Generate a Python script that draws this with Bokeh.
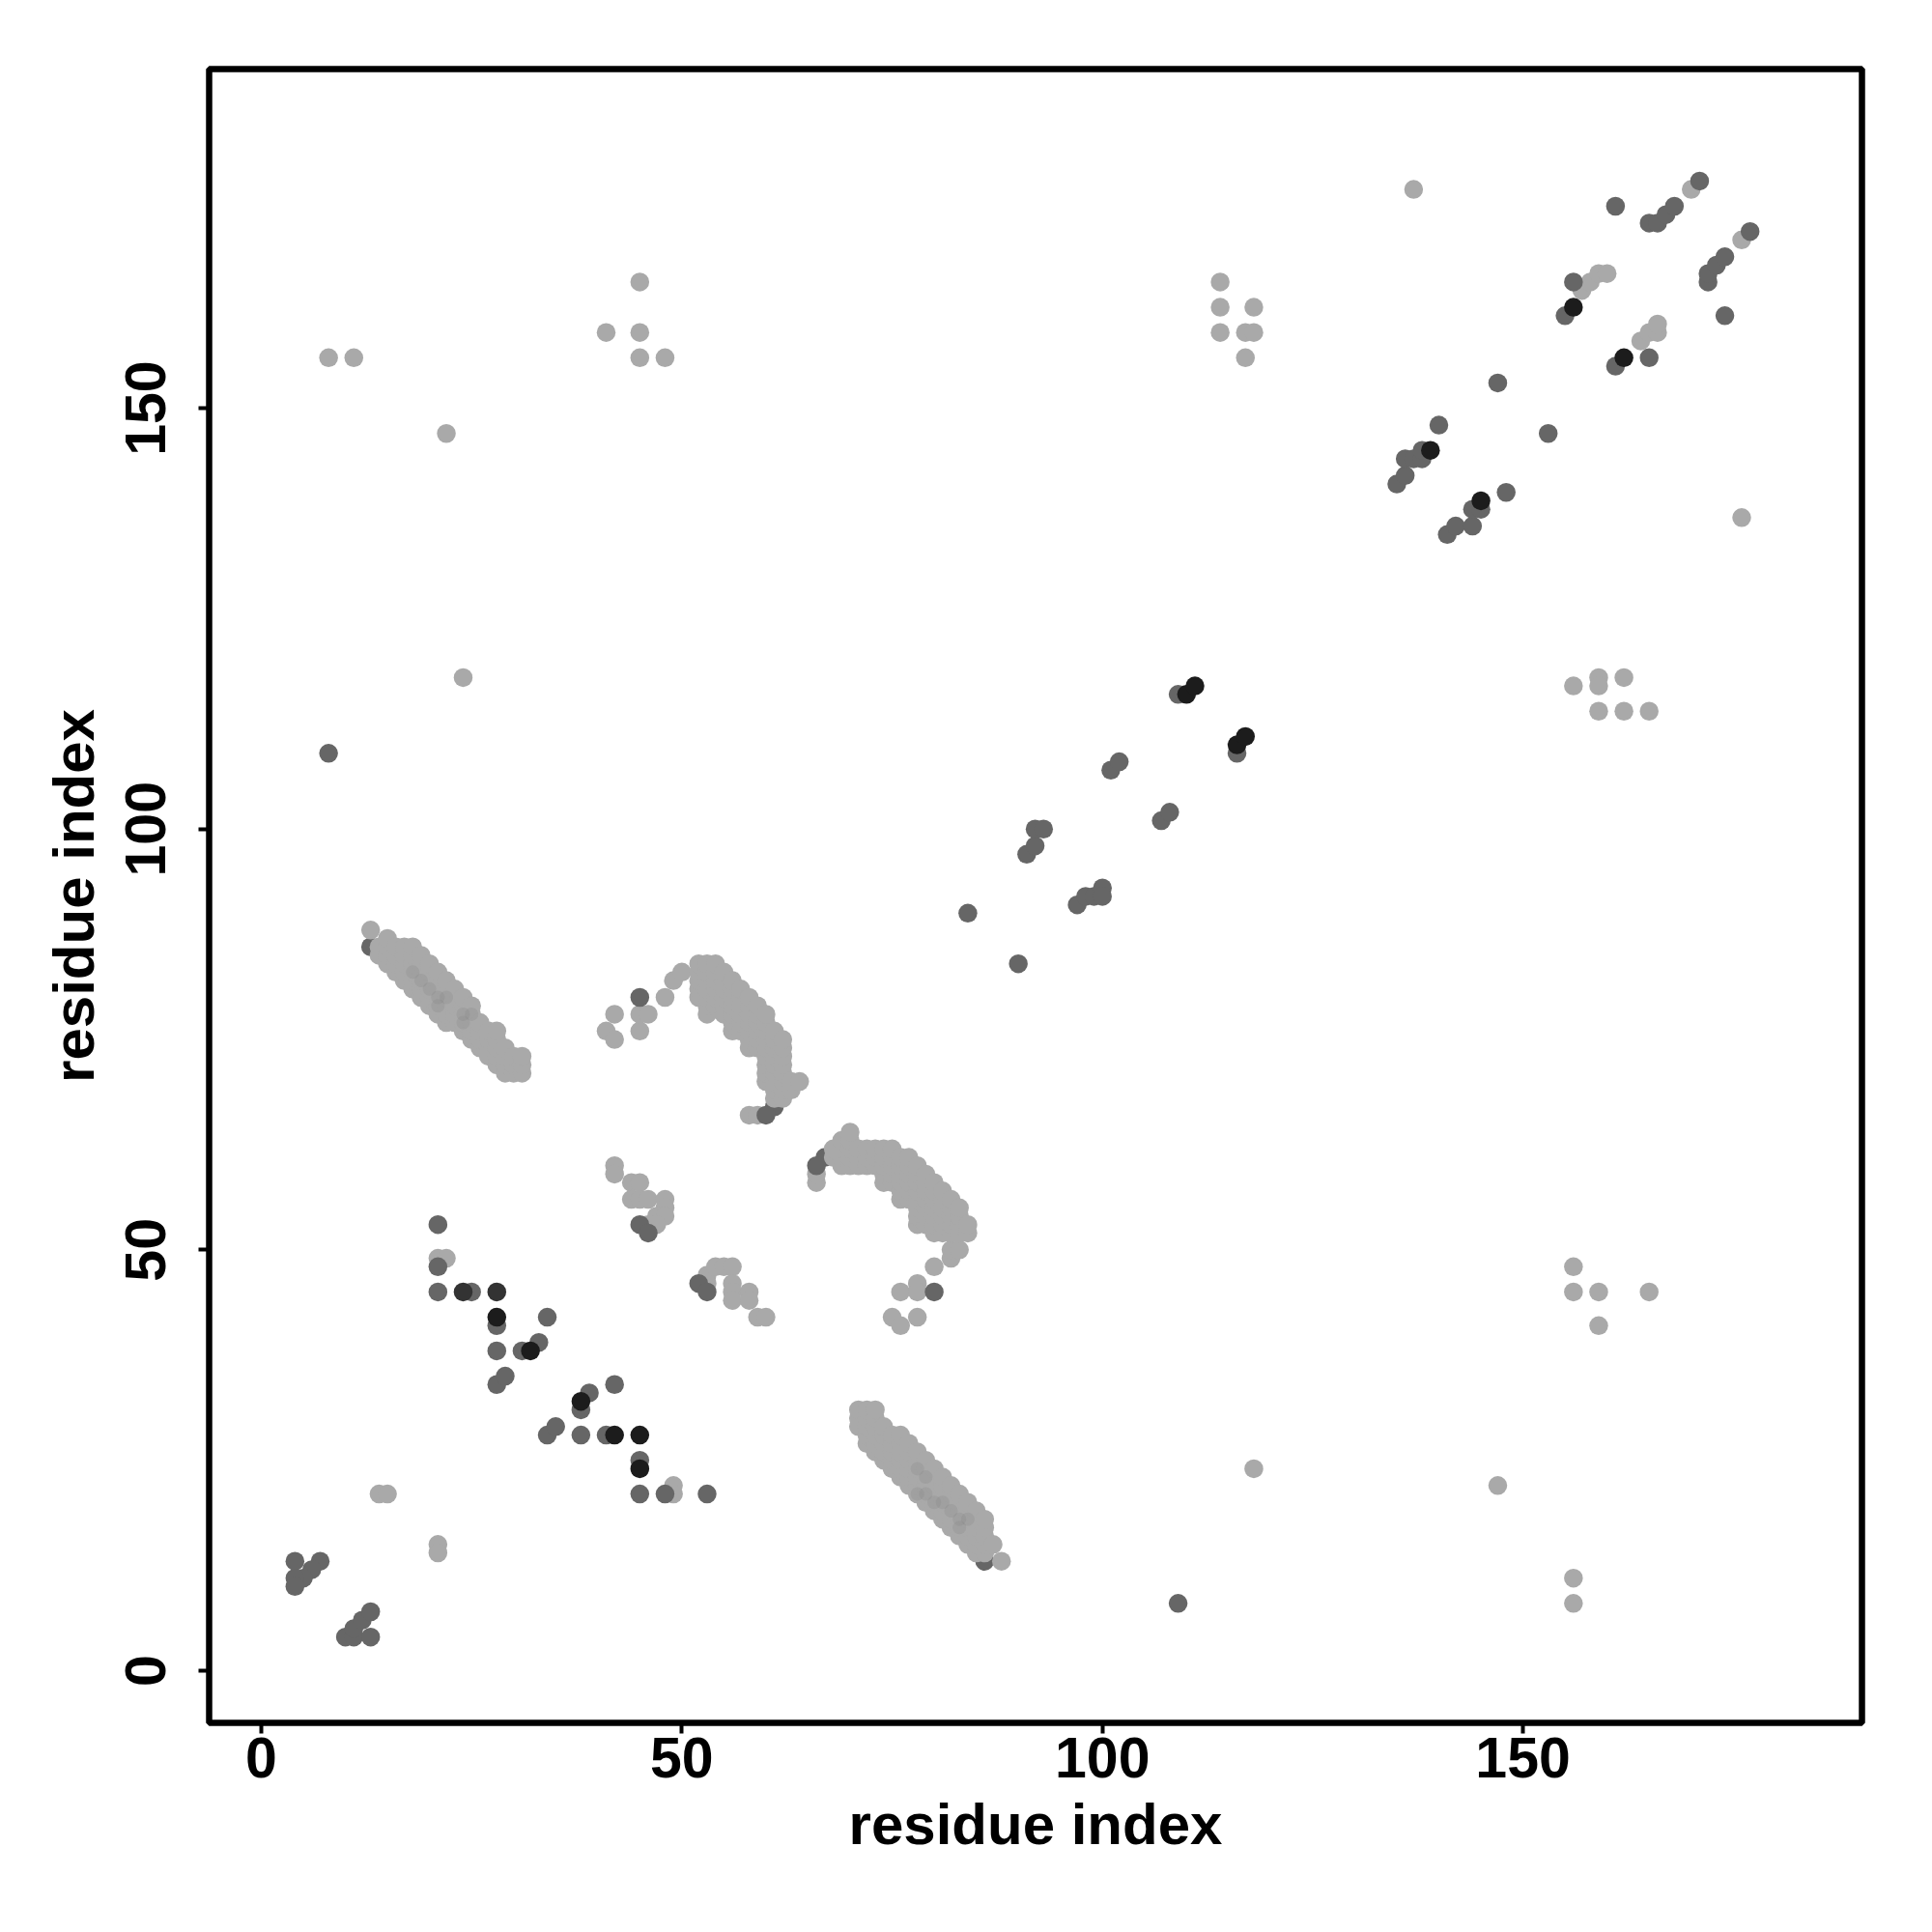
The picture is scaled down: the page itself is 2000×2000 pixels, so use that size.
from bokeh.plotting import figure
from bokeh.embed import file_html
from bokeh.resources import INLINE
from bokeh.models import FixedTicker, Range1d

tick_values = [0, 50, 100, 150]
axis_title = "residue index"

# isolated light contacts
light_pts = [(8,156),(11,156),(22,147),(24,118),(137,176),(41,159),(45,165),(45,159),(45,156),(48,156),
 (114,165),(114,162),(118,162),(114,159),(117,159),(118,159),(117,156),(176,137),(156,117),(159,118),(159,117),
 (162,118),(159,114),(162,114),(165,114),(156,48),(156,45),(159,45),(159,41),(165,45),(118,24),(147,22),(156,11),(156,8),
 (14,21),(15,21),(21,15),(21,14),(49,22),(49,21),(170,176),(176,170),(157,164),(158,165),(159,166),(160,166),
 (164,158),(165,159),(166,159),(166,160),(21,49),(22,49),
 (42,60),(42,59),(44,58),(45,58),(44,56),(45,56),(46,56),(48,56),(48,55),(47,54),(48,54),(46,53),(47,53),
 (53,47),(54,48),(55,48),(56,48),(53,46),(56,46),(56,45),(56,44),(58,45),(58,44),(59,42),(60,42),
 (75,42),(76,41),(76,45),(78,46),(78,45),(78,42),(80,48),(82,49),(82,50),(83,50),
 (41,76),(42,78),(42,75),(45,76),(45,78),(46,78),(13,88),(88,13),(58,66),(59,66),(66,58),(66,59)]

# dense bands: residue on x, contacting residues on y
band1_x = [14,15,16,17,18,19,20,21,22,23,24,25,26,27,28,29,30,31]
band1_y = [[85,86],[84,85,86,87],[83,84,85,86],[82,83,84,85,86],[81,82,83,84,85,86],[80,81,82,83,84,85],
 [79,80,81,82,83,84],[78,79,80,81,82,83],[77,78,79,80,81,82],[77,78,79,80,81],[76,77,78,79,80],[75,76,77,78,79],
 [74,75,76,77],[73,74,75,76],[72,73,74,75,76],[71,72,73,74],[71,72,73],[71,72,73]]
band2_x = [48,49,50,52,53,54,55,56,57,58,59,60,61,62,63,64]
band2_y = [[80],[82],[83],[80,81,82,83,84],[78,79,80,81,82,83,84],[79,80,81,82,83,84],[78,79,80,81,82,83],
 [76,77,78,79,80,81,82],[76,77,78,79,80,81],[74,75,76,77,78,79,80],[74,75,76,77,78,79],
 [70,71,72,73,74,75,76,77,78],[68,69,70,71,72,73,74,75,76],[68,69,70,71,72,73,74,75],[69,70],[70]]
band3_x = [68,69,70,71,72,73,74,75,76,77,78,79,80,81,82,83,84]
band3_y = [[61,62],[60,61,62,63],[60,61,62,63,64],[60,61,62],[60,61,62],[60,61,62],[58,59,60,61,62],[58,59,60,61,62],
 [56,57,58,59,60,61],[56,57,58,59,60,61],[53,54,55,56,57,58,59,60],[53,54,55,56,57,58,59],[52,53,54,55,56,57,58],
 [52,53,54,55,56,57],[52,53,54,55,56],[52,53,54,55],[52,53]]
band4_x = [71,72,73,74,75,76,77,78,79,80,81,82,83,84,85,86,87]
band4_y = [[29,30,31],[27,28,29,30,31],[26,27,28,29,30,31],[25,26,27,28,29],[24,25,26,27,28],[23,24,25,26,27,28],
 [22,23,24,25,26,27],[21,22,23,24,25,26],[20,21,22,23,24,25],[19,20,21,22,23,24],[18,19,20,21,22,23],
 [17,18,19,20,21,22],[16,17,18,19,20,21],[15,16,17,18,19,20],[14,15,16,17,18,19],[14,15,16,17,18],[15]]

# darker, more heavily overlapped core of the bands
core_pts = [(18,83),(19,82),(20,81),(21,80),(21,79),(22,80),(24,78),(24,77),(25,78),
 (78,24),(79,23),(78,21),(79,21),(80,20),(81,20),(82,19),(83,18),(83,17),(84,18)]

dark_under = [(13,86),(86,13),(61,67),(67,61)]
dark_pts = [(8,109),(109,8),(135,141),(136,142),(136,144),(137,144),(138,144),(138,145),(140,148),
 (141,135),(142,136),(144,136),(144,138),(145,138),(148,140),(147,153),(153,147),(155,161),(156,165),
 (161,155),(165,156),(161,174),(165,172),(166,172),(167,173),(168,174),(171,177),(172,165),(172,166),(173,167),(174,168),(174,161),(177,171),
 (84,90),(90,84),(91,97),(92,98),(92,100),(93,100),(97,91),(98,92),(99,92),(100,93),(100,92),(101,107),(102,108),(107,101),(108,102),(109,116),(116,109),
 (4,13),(7,13),(6,12),(5,11),(4,11),(4,10),(10,4),(11,4),(11,5),(12,6),(13,7),(13,4),
 (21,53),(21,48),(21,45),(25,45),(28,41),(34,42),(28,38),(31,38),(33,39),(28,34),(29,35),(42,34),(34,28),(35,29),(38,31),(39,33),(38,28),(41,28),(45,25),(45,21),(48,21),(53,21),
 (45,53),(46,52),(52,46),(53,45),(80,45),(45,80),(60,66),(66,60)]
charcoal_pts = [(24,45),(28,45)]
black_pts = [(139,145),(145,139),(156,162),(162,156),(110,116),(111,117),(116,110),(117,111),
 (28,42),(32,38),(38,32),(42,28),(45,28),(45,24)]

def split(pts):
    return [q[0] for q in pts], [q[1] for q in pts]

def expand(xs, yss):
    return [(a, b) for a, bs in zip(xs, yss) for b in bs]

W = H = 1984
p = figure(width=W, height=H, output_backend="svg", toolbar_location=None,
           x_range=Range1d(-6.2, 190.3), y_range=Range1d(-6.2, 190.3),
           min_border_left=216, min_border_right=57, min_border_top=71, min_border_bottom=201)
p.grid.visible = False
p.outline_line_color = "black"
p.outline_line_width = 6.5
p.background_fill_color = "white"
p.border_fill_color = "white"

for ax in (p.xaxis[0], p.yaxis[0]):
    ax.ticker = FixedTicker(ticks=tick_values)
    ax.axis_label = axis_title
    ax.axis_line_color = None
    ax.major_tick_in = 0
    ax.major_tick_out = 11
    ax.major_tick_line_width = 4
    ax.minor_tick_line_color = None
    ax.major_label_text_font = "Liberation Sans"
    ax.major_label_text_font_style = "bold"
    ax.major_label_text_font_size = "59px"
    ax.major_label_text_color = "black"
    ax.axis_label_text_font = "Liberation Sans"
    ax.axis_label_text_font_style = "bold"
    ax.axis_label_text_font_size = "60px"
    ax.axis_label_text_color = "black"
p.yaxis[0].major_label_orientation = "vertical"
p.xaxis[0].major_label_standoff = 4
p.yaxis[0].major_label_standoff = 34
p.xaxis[0].axis_label_standoff = 12
p.yaxis[0].axis_label_standoff = 18

S = 19.5
x, y = split(dark_under)
p.scatter(x, y, size=S, color="#666666", line_color=None)

bands = expand(band1_x, band1_y) + expand(band2_x, band2_y) + expand(band3_x, band3_y) + expand(band4_x, band4_y)
x, y = split(light_pts + bands)
p.scatter(x, y, size=S, color="#a9a9a9", line_color=None)

x, y = split(core_pts)
p.scatter(x, y, size=14, marker="circle", color="#808080", line_color=None, alpha=0.22)

x, y = split(dark_pts)
p.scatter(x, y, size=S, color="#666666", line_color=None)
x, y = split(charcoal_pts)
p.scatter(x, y, size=S, color="#333333", line_color=None)
x, y = split(black_pts)
p.scatter(x, y, size=S, color="#1c1c1c", line_color=None)

open("out.html", "w").write(file_html(p, INLINE))
